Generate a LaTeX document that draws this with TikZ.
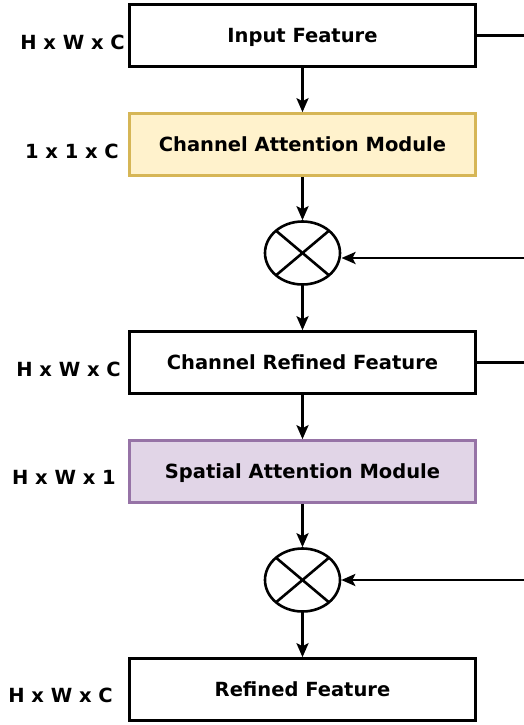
\documentclass[tikz,border=0pt]{standalone}
\usepackage{fontspec}
\setmainfont{DejaVu Sans}
\usetikzlibrary{shapes.geometric,arrows.meta,calc}
\definecolor{camfill}{HTML}{FFF2CC}
\definecolor{camdraw}{HTML}{D6B656}
\definecolor{samfill}{HTML}{E1D5E7}
\definecolor{samdraw}{HTML}{9673A6}
\begin{document}
\begin{tikzpicture}[x=1pt,y=-1pt,
  font=\fontsize{19.5}{23}\selectfont\bfseries,
  featbox/.style={draw=black,line width=2.6pt,fill=white,minimum width=346pt,minimum height=62pt,
    inner sep=0pt,text height=14.2pt,text depth=0pt},
  cambox/.style={featbox,draw=camdraw,fill=camfill},
  sambox/.style={featbox,draw=samdraw,fill=samfill},
  mult/.style={draw=black,line width=2.6pt,ellipse,minimum width=75pt,minimum height=63pt,inner sep=0pt},
  dimlabel/.style={anchor=east,inner sep=0pt,text height=14.2pt,text depth=0pt},
  flow/.style={line width=2.6pt,-{Stealth[length=14pt,width=12pt,inset=3pt]}},
  side/.style={line width=2.6pt}]
\useasboundingbox (0,0) rectangle (523,725);

% main column
\node[featbox] (in)  at (302.5,35.5)  {Input Feature};
\node[cambox]  (cam) at (302.5,144.5) {Channel Attention Module};
\node[mult]    (m1)  at (302.5,253) {};
\node[featbox] (crf) at (302.5,362.5) {Channel Refined Feature};
\node[sambox]  (sam) at (302.5,471.5) {Spatial Attention Module};
\node[mult]    (m2)  at (302.5,580) {};
\node[featbox] (out) at (302.5,689.5) {Refined Feature};

% crosses inside the multiplication nodes
\foreach \m in {m1,m2}{
  \draw[line width=2.6pt] ($(\m.center)+(-26.5,-22.3)$) -- ($(\m.center)+(26.5,22.3)$);
  \draw[line width=2.6pt] ($(\m.center)+(26.5,-22.3)$) -- ($(\m.center)+(-26.5,22.3)$);
}

% tensor shapes
\node[dimlabel] (l1) at (125,42)  {H x W x C};
\node[dimlabel] (l2) at (119,151) {1 x 1 x C};
\node[dimlabel] (l3) at (121,369) {H x W x C};
\node[dimlabel] (l4) at (116,477.5) {H x W x 1};
\node[dimlabel] (l5) at (113,695.5) {H x W x C};

% vertical flow
\draw[flow] (in.south)  -- (cam.north);
\draw[flow] (cam.south) -- (m1.north);
\draw[flow] (m1.south)  -- (crf.north);
\draw[flow] (crf.south) -- (sam.north);
\draw[flow] (sam.south) -- (m2.north);
\draw[flow] (m2.south)  -- (out.north);

% skip connections leaving on the right
\coordinate (s1) at (524,35.5);
\coordinate (r1) at (524,258);
\coordinate (s2) at (524,362.5);
\coordinate (r2) at (524,580);
\draw[side] (in.east) -- (in.east -| s1);
\draw[flow] (r1) -- (341.5,258);
\draw[side] (crf.east) -- (crf.east -| s2);
\draw[flow] (r2) -- (r2 -| m2.east);
\end{tikzpicture}
\end{document}
